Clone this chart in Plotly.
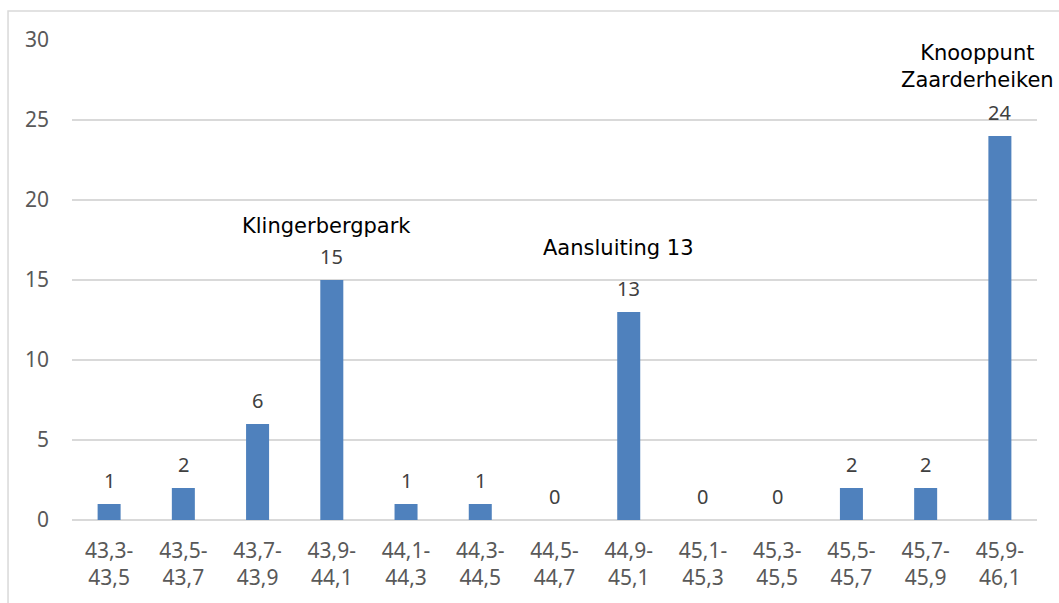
import plotly.graph_objects as go

# Kilometre sections along the road and number of incidents per section
sections = ["43,3-<br>43,5", "43,5-<br>43,7", "43,7-<br>43,9", "43,9-<br>44,1",
            "44,1-<br>44,3", "44,3-<br>44,5", "44,5-<br>44,7", "44,9-<br>45,1",
            "45,1-<br>45,3", "45,3-<br>45,5", "45,5-<br>45,7", "45,7-<br>45,9",
            "45,9-<br>46,1"]
counts = [1, 2, 6, 15, 1, 1, 0, 13, 0, 0, 2, 2, 24]

# Named locations along the route: (section, label, label height, x offset px)
places = [
    ("43,9-<br>44,1", "Klingerbergpark", 18.35, -5),
    ("44,9-<br>45,1", "Aansluiting 13", 17.0, -10),
    ("45,9-<br>46,1", "Knooppunt<br>Zaarderheiken", 28.35, -22),
]

y_ticks = [0, 5, 10, 15, 20, 25, 30]

BAR = "#4F81BD"
GRID = "#D9D9D9"
TICK = "#595959"

fig = go.Figure()
fig.add_trace(go.Bar(
    x=sections, y=counts,
    marker=dict(color=BAR, line=dict(width=0)),
    hoverinfo="x+y",
))

annotations = []
# value labels above each bar
for s, c in zip(sections, counts):
    annotations.append(dict(
        x=s, y=c, xref="x", yref="y", text=str(c), showarrow=False,
        yanchor="middle", yshift=24,
        font=dict(family="Noto Sans", size=20, color="#404040"),
    ))
# location names
for s, label, yv, dx in places:
    annotations.append(dict(
        x=s, y=yv, xref="x", yref="y", text=label, showarrow=False,
        xshift=dx, yanchor="middle", align="center",
        bgcolor="white" if "<br>" in label else "rgba(0,0,0,0)",
        font=dict(family="DejaVu Sans", size=21, color="#000000"),
    ))

fig.update_layout(
    width=1059, height=603,
    margin=dict(l=72, r=22, t=40, b=83),
    paper_bgcolor="white", plot_bgcolor="white",
    showlegend=False,
    bargap=0.69,
    annotations=annotations,
    shapes=[dict(
        type="rect", xref="paper", yref="paper",
        x0=-0.0663, x1=1.5, y0=-1.0, y1=1.0604,
        line=dict(color=GRID, width=1.5), fillcolor="rgba(0,0,0,0)", layer="below",
    )],
    xaxis=dict(
        range=[-0.5, len(sections) - 0.5],
        showgrid=False, showline=False, zeroline=False,
        tickfont=dict(family="Noto Sans", size=21, color=TICK),
        ticklabelstandoff=16,
    ),
    yaxis=dict(
        range=[0, 30], tickvals=y_ticks,
        showgrid=True, gridcolor=GRID, gridwidth=1.5,
        zeroline=True, zerolinecolor=GRID, zerolinewidth=1.5,
        showline=False,
        tickfont=dict(family="Noto Sans", size=21, color=TICK),
        ticklabelstandoff=22,
    ),
)

fig.write_html("out.html")
